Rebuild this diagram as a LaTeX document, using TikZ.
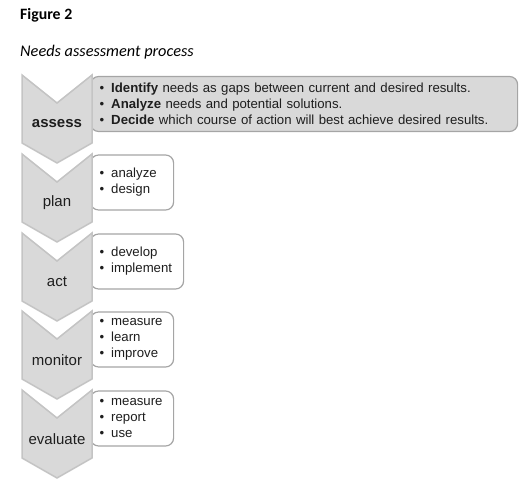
\documentclass[tikz,border=0pt]{standalone}
\usepackage{fontspec}
\setmainfont{Liberation Sans}
\newfontfamily\capfont{Carlito}
\usetikzlibrary{positioning}
\definecolor{chevgray}{RGB}{217,217,217}
\definecolor{chevedge}{RGB}{196,196,196}
\definecolor{boxedge}{RGB}{165,165,165}
\definecolor{inktext}{RGB}{30,30,30}
\newcommand{\bul}{\textbullet\hspace{7pt}}

\begin{document}
\begin{tikzpicture}[x=1pt, y=-1pt,
    chevron/.style={fill=chevgray, draw=chevedge, line width=1.5pt, line join=miter},
    stagelabel/.style={font=\fontsize{15}{18}\selectfont, text=inktext},
    listbox/.style={draw=boxedge, line width=1.2pt, rounded corners=8pt, minimum height=55pt,
      inner xsep=9pt, anchor=west, align=left, font=\fontsize{13.2}{16}\selectfont, text=inktext}]
    \useasboundingbox (0,0) rectangle (530,484);
    % caption
    \node[font=\capfont\bfseries\fontsize{15.8}{18}\selectfont, anchor=base west, inner sep=0pt] (fig) at (20,19.5) {Figure 2};
    \node[font=\capfont\itshape\fontsize{16.3}{19}\selectfont, anchor=base west, inner sep=0pt] (title) at (20,57) {Needs assessment process};
    % list boxes
    \node[listbox, fill=chevgray, text width=409pt] (assessbox) at (90,104)
      {\bul\textbf{Identify} needs as gaps between current and desired results.\\
       \bul\textbf{Analyze} needs and potential solutions.\\
       \bul\textbf{Decide} which course of action will best achieve desired results.};
    \foreach \y/\name/\w/\txt in {
        154/planbox/65/{\bul analyze\\\bul design},
        233/actbox/75/{\bul develop\\\bul implement},
        311/monitorbox/65/{\bul measure\\\bul learn\\\bul improve},
        390/evaluatebox/65/{\bul measure\\\bul report\\\bul use}
    }{
      \node[listbox, fill=white, text width=\w pt] (\name) at (90,\y+28.5) {\txt};
    }
    % chevrons
    \foreach \y/\name/\lbl in {75/assess/\textbf{assess}, 154/plan/plan, 233/act/act, 311/monitor/monitor, 390/evaluate/evaluate}{
      \draw[chevron] (22,\y) -- (57,\y+28) -- (92,\y) -- (92,\y+68) -- (57,\y+88) -- (22,\y+68) -- cycle;
      \node[stagelabel] (\name) at (57,\y+49) {\lbl};
    }
  \end{tikzpicture}
\end{document}
